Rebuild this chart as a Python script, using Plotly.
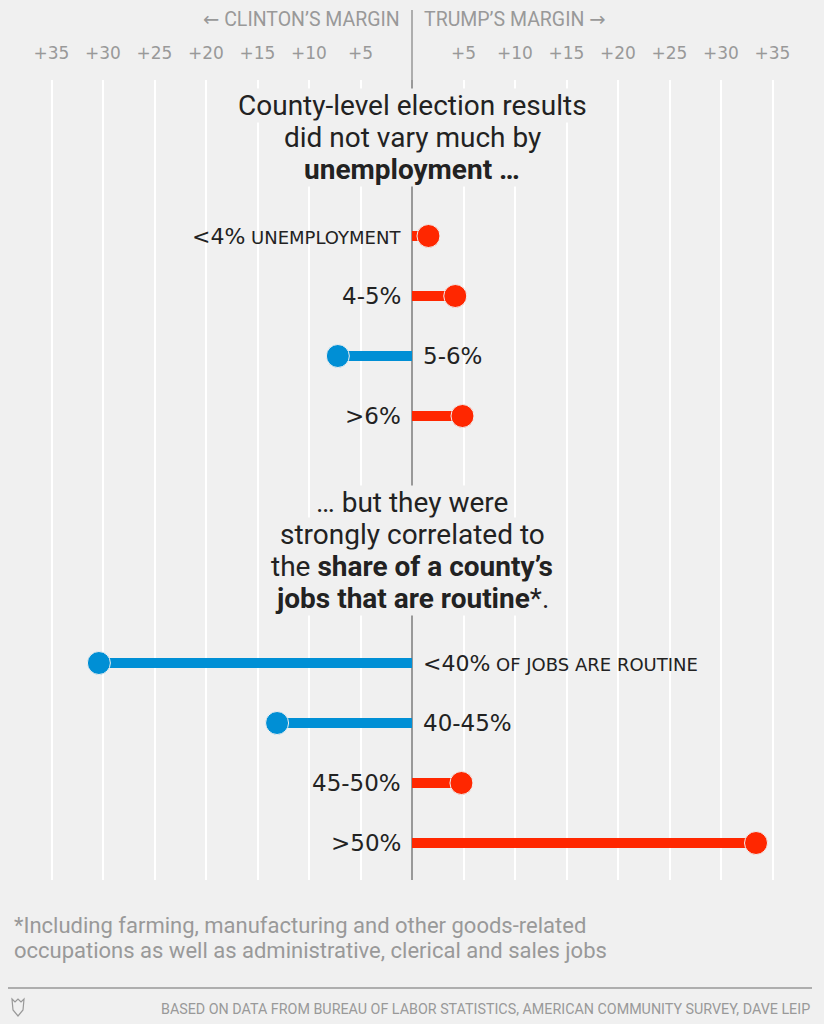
import plotly.graph_objects as go

# ---- data ----
unemp_labels = ["<4%", "4-5%", "5-6%", ">6%"]
unemp_values = [1.6, 4.2, -7.2, 4.9]
routine_labels = ["<40%", "40-45%", "45-50%", ">50%"]
routine_values = [-30.4, -13.1, 4.8, 33.4]
tick_vals = [-35, -30, -25, -20, -15, -10, -5, 5, 10, 15, 20, 25, 30, 35]
tick_text = ["+35", "+30", "+25", "+20", "+15", "+10", "+5",
             "+5", "+10", "+15", "+20", "+25", "+30", "+35"]
unemp_suffix = " UNEMPLOYMENT"
routine_suffix = " OF JOBS ARE ROUTINE"
footnote_lines = ["*Including farming, manufacturing and other goods-related",
                  "occupations as well as administrative, clerical and sales jobs"]
source_text = "BASED ON DATA FROM BUREAU OF LABOR STATISTICS, AMERICAN COMMUNITY SURVEY, DAVE LEIP"

RED = "#ff2700"
BLUE = "#008fd5"
BG = "#f0f0f0"
GRAY = "#999999"
DARK = "#222222"
FONT = "Roboto, 'Noto Sans', sans-serif"
LFONT = "'DejaVu Sans', Roboto, sans-serif"

W, H = 824, 1024
PLOT_TOP, PLOT_BOT = 80, 880

def py(p):
    return (H - p) / H

def px(p):
    return p / W

# row positions (pixel-space y)
rows = []
for i, (lab, v) in enumerate(zip(unemp_labels, unemp_values)):
    rows.append((lab, v, 236 + 60 * i, unemp_suffix if i == 0 else ""))
for i, (lab, v) in enumerate(zip(routine_labels, routine_values)):
    rows.append((lab, v, 663 + 60 * i, routine_suffix if i == 0 else ""))

fig = go.Figure()

for color, cond in [(RED, lambda v: v > 0), (BLUE, lambda v: v < 0)]:
    xs, ys = [], []
    for lab, v, y, suf in rows:
        if cond(v):
            xs += [0, v, None]
            ys += [y, y, None]
    fig.add_trace(go.Scatter(x=xs, y=ys, mode="lines",
                             line=dict(color=color, width=10),
                             hoverinfo="skip", showlegend=False))

fig.add_trace(go.Scatter(
    x=[r[1] for r in rows], y=[r[2] for r in rows], mode="markers",
    marker=dict(size=23, color=[RED if r[1] > 0 else BLUE for r in rows],
                line=dict(color=BG, width=1)),
    hoverinfo="skip", showlegend=False))

annotations = []
for lab, v, y, suf in rows:
    if suf:
        text = '<span style="font-size:22px">' + lab + '</span>' \
               '<span style="font-size:18px">' + suf + '</span>'
    else:
        text = lab
    annotations.append(dict(
        x=0, y=y, xref="x", yref="y", text=text, showarrow=False,
        xanchor="right" if v > 0 else "left",
        xshift=-9 if v > 0 else 9, yanchor="middle",
        font=dict(family=LFONT, size=23, color=DARK)))

title1 = ["County-level election results", "did not vary much by",
          "<b>unemployment …</b>"]
title2 = ["… but they were", "strongly correlated to",
          "the <b>share of a county’s</b>", "<b>jobs that are routine</b>*."]
for lines, y0 in [(title1, 105), (title2, 502)]:
    for i, t in enumerate(lines):
        annotations.append(dict(
            x=0, y=y0 + 32 * i, xref="x", yref="y", text=t, showarrow=False,
            xanchor="center", yanchor="middle", bgcolor=BG, borderpad=0,
            font=dict(family=FONT, size=28, color=DARK)))

# header
ARROW = '<span style="font-family:\'DejaVu Sans\'">{}</span>'
annotations.append(dict(x=px(402), y=py(19), xref="paper", yref="paper",
                        text=ARROW.format("←") + " CLINTON’S MARGIN", showarrow=False,
                        xanchor="right", yanchor="middle",
                        font=dict(family=FONT, size=19.5, color=GRAY)))
annotations.append(dict(x=px(422), y=py(19), xref="paper", yref="paper",
                        text="TRUMP’S MARGIN " + ARROW.format("→"), showarrow=False,
                        xanchor="left", yanchor="middle",
                        font=dict(family=FONT, size=19.5, color=GRAY)))
# footnote
for i, line in enumerate(footnote_lines):
    annotations.append(dict(x=px(12), y=py(925 + 25 * i), xref="paper", yref="paper",
                            text=line, showarrow=False, xanchor="left", yanchor="middle",
                            font=dict(family=FONT, size=22, color=GRAY)))
# source
annotations.append(dict(x=px(812), y=py(1009), xref="paper", yref="paper",
                        text=source_text, showarrow=False, xanchor="right", yanchor="middle",
                        font=dict(family=FONT, size=14.3, color=GRAY)))

shapes = [
    # zero line extension above plot area
    dict(type="line", xref="x", yref="paper", x0=0, x1=0, y0=py(PLOT_TOP), y1=py(10),
         line=dict(color=GRAY, width=1.5), layer="below"),
    # footer rule
    dict(type="line", xref="paper", yref="paper", x0=px(8), x1=px(812),
         y0=py(988), y1=py(988), line=dict(color=GRAY, width=1.5)),
    # small logo
    dict(type="path", xref="paper", yref="paper",
         path=f"M {px(12)} {py(999)} L {px(15)} {py(1002)} L {px(18)} {py(999)} "
              f"L {px(21)} {py(1002)} L {px(24)} {py(999)} L {px(23)} {py(1010)} "
              f"L {px(18)} {py(1016)} L {px(13)} {py(1010)} Z",
         line=dict(color=GRAY, width=1.2)),
]

fig.update_layout(
    width=W, height=H,
    paper_bgcolor=BG, plot_bgcolor=BG,
    margin=dict(l=0, r=0, t=0, b=0),
    showlegend=False,
    xaxis=dict(range=[-40, 40], side="top", tickvals=tick_vals, ticktext=tick_text,
               showgrid=True, gridcolor="white", gridwidth=2,
               zeroline=True, zerolinecolor=GRAY, zerolinewidth=1.5,
               ticks="outside", ticklen=13, tickcolor=BG,
               tickfont=dict(family=LFONT, size=17, color=GRAY),
               showline=False, fixedrange=True),
    yaxis=dict(range=[PLOT_BOT, PLOT_TOP], domain=[(H - PLOT_BOT) / H, (H - PLOT_TOP) / H],
               showgrid=False, zeroline=False, showticklabels=False, fixedrange=True),
    annotations=annotations,
    shapes=shapes,
)

fig.write_html("out.html", config={"displayModeBar": False},
               post_script="document.body.style.margin='0';document.body.style.overflow='hidden';")
